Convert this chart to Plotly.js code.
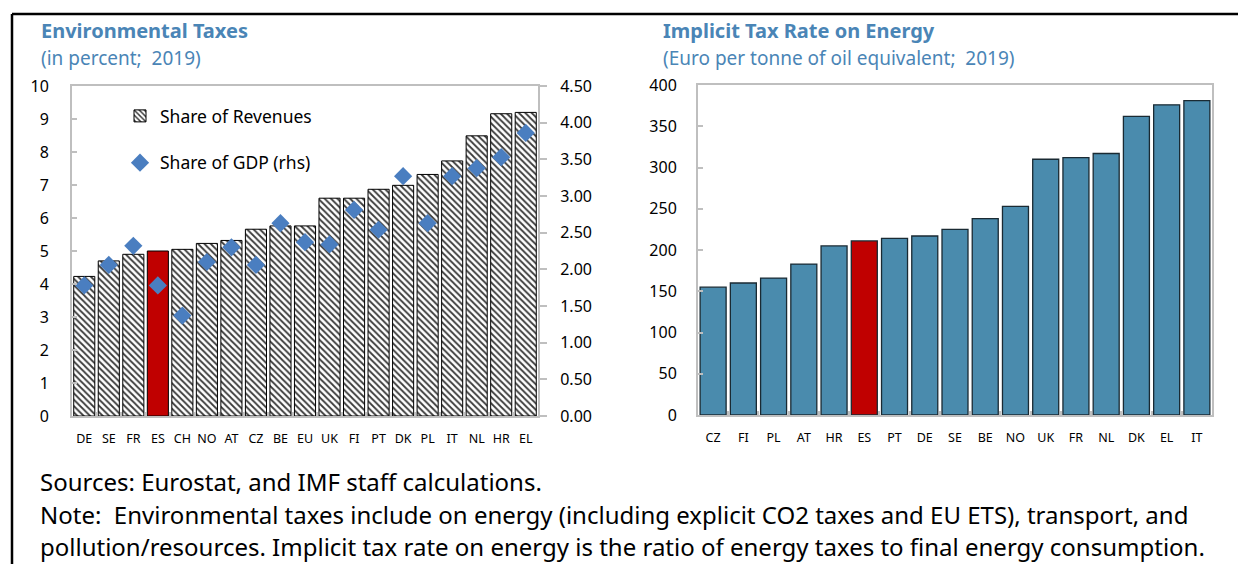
<!DOCTYPE html>
<html>
<head>
<meta charset="utf-8">
<script src="https://cdn.plot.ly/plotly-3.0.1.min.js"></script>
<style>html,body{margin:0;padding:0;background:#fff;}#chart{width:1238px;height:564px;}</style>
</head>
<body>
<div id="chart"></div>
<script>
// ---- Data ----
const envCountries = ["DE","SE","FR","ES","CH","NO","AT","CZ","BE","EU","UK","FI","PT","DK","PL","IT","NL","HR","EL"];
const shareRevenues = [4.23,4.70,4.90,5.00,5.05,5.23,5.32,5.66,5.76,5.76,6.60,6.60,6.87,6.99,7.32,7.73,8.49,9.16,9.20];
const shareGDP = [1.78,2.06,2.32,1.78,1.37,2.10,2.30,2.06,2.63,2.37,2.34,2.81,2.54,3.27,2.63,3.27,3.38,3.53,3.86];

const energyCountries = ["CZ","FI","PL","AT","HR","ES","PT","DE","SE","BE","NO","UK","FR","NL","DK","EL","IT"];
const energyTaxRate = [155,160,166,183,205,211,214,217,225,238,253,310,312,317,362,376,381];

const highlight = "ES";

// ---- Styling ----
const W = 1238, H = 564;
const px = x => x / W;
const py = y => 1 - y / H;
const FONT = "Noto Sans, DejaVu Sans, sans-serif";
const TITLE_COLOR = "#4A85B6";
const AXIS_COLOR = "#BFBFBF";
const RED = "#C00000";

const revOthers = envCountries.map((c, i) => c === highlight ? null : shareRevenues[i]);
const revHighlight = envCountries.map((c, i) => c === highlight ? shareRevenues[i] : null);
const energyColors = energyCountries.map(c => c === highlight ? RED : "#4A8BAD");

const traces = [
  {
    type: "bar", x: envCountries, y: revOthers, name: "Share of Revenues",
    xaxis: "x", yaxis: "y", legendgroup: "a",
    marker: {
      color: "#FFFFFF",
      line: {color: "#000", width: 1},
      pattern: {shape: "\\", fgcolor: "#3A3A3A", bgcolor: "#FFFFFF", size: 4.5, solidity: 0.4}
    }
  },
  {
    type: "bar", x: envCountries, y: revHighlight, name: "ES",
    xaxis: "x", yaxis: "y", showlegend: false,
    marker: {color: RED, line: {color: "#000", width: 1}}
  },
  {
    type: "scatter", mode: "markers", x: envCountries, y: shareGDP, name: "Share of GDP (rhs)",
    xaxis: "x", yaxis: "y2", legendgroup: "b",
    marker: {symbol: "diamond", size: 14, color: "#4A7EC0"}
  },
  {
    type: "bar", x: energyCountries, y: energyTaxRate, name: "Implicit tax rate",
    xaxis: "x2", yaxis: "y3", showlegend: false,
    marker: {color: energyColors, line: {color: "#1A2A33", width: 1.3}}
  }
];

const xBase = {
  type: "category", showline: true, linecolor: AXIS_COLOR, linewidth: 2, mirror: true,
  ticks: "inside", tickson: "boundaries", ticklen: 4, tickcolor: AXIS_COLOR, tickwidth: 2,
  tickfont: {family: FONT, size: 12.5, color: "#000"}, showgrid: false, zeroline: false,
  tickangle: 0, ticklabelstandoff: 10, fixedrange: true
};
const yBase = {
  showline: true, linecolor: AXIS_COLOR, linewidth: 2, showgrid: false, zeroline: false,
  ticklen: 5, tickcolor: AXIS_COLOR, tickwidth: 2,
  tickfont: {family: FONT, size: 16, color: "#000"}, fixedrange: true
};

const layout = {
  width: W, height: H,
  margin: {l: 0, r: 0, t: 0, b: 0},
  paper_bgcolor: "#fff", plot_bgcolor: "#fff",
  font: {family: FONT, color: "#000"},
  barmode: "overlay",
  bargap: 0.14,
  showlegend: true,
  legend: {
    x: px(120), y: py(98), xanchor: "left", yanchor: "top",
    bgcolor: "rgba(0,0,0,0)", borderwidth: 0,
    font: {family: FONT, size: 17.5, color: "#000"},
    traceorder: "grouped", tracegroupgap: 21, itemwidth: 30
  },
  xaxis: Object.assign({}, xBase, {domain: [px(72), px(538)], anchor: "y", range: [-0.5, envCountries.length - 0.5]}),
  yaxis: Object.assign({}, yBase, {domain: [py(416), py(86)], anchor: "x", range: [0, 10], dtick: 1,
    ticks: "inside", ticklabelstandoff: 18}),
  yaxis2: Object.assign({}, yBase, {overlaying: "y", side: "right", anchor: "x", range: [0, 4.5],
    dtick: 0.5, tickformat: ".2f", ticks: "outside", ticklen: 7, ticklabelstandoff: 10}),
  xaxis2: Object.assign({}, xBase, {domain: [px(698), px(1212)], anchor: "y3", range: [-0.5, energyCountries.length - 0.5]}),
  yaxis3: Object.assign({}, yBase, {domain: [py(415), py(85)], anchor: "x2", range: [0, 400],
    dtick: 50, ticks: "inside", mirror: true, ticklabelstandoff: 16}),
  shapes: [
    {type: "line", xref: "paper", yref: "paper", x0: px(12), x1: 1, y0: py(14), y1: py(14), line: {color: "#000", width: 2.5}},
    {type: "line", xref: "paper", yref: "paper", x0: px(12), x1: px(12), y0: py(14), y1: 0, line: {color: "#000", width: 2.5}}
  ],
  annotations: [
    {text: "<b>Environmental Taxes</b>", x: px(39), y: py(30), font: {size: 20, color: TITLE_COLOR}},
    {text: "(in percent;  2019)", x: px(39), y: py(58), font: {size: 19, color: TITLE_COLOR}},
    {text: "<b>Implicit Tax Rate on Energy</b>", x: px(661), y: py(30), font: {size: 20, color: TITLE_COLOR}},
    {text: "(Euro per tonne of oil equivalent;  2019)", x: px(661), y: py(58), font: {size: 19, color: TITLE_COLOR}},
    {text: "Sources: Eurostat, and IMF staff calculations.", x: px(38), y: py(481), font: {size: 24, color: "#000"}},
    {text: "Note:  Environmental taxes include on energy (including explicit CO2 taxes and EU ETS), transport, and", x: px(38), y: py(514), font: {size: 24, color: "#000"}},
    {text: "pollution/resources. Implicit tax rate on energy is the ratio of energy taxes to final energy consumption.", x: px(38), y: py(546), font: {size: 24, color: "#000"}}
  ].map(a => Object.assign({xref: "paper", yref: "paper", xanchor: "left", yanchor: "middle", showarrow: false}, a,
    {font: Object.assign({family: FONT}, a.font)}))
};

Plotly.newPlot("chart", traces, layout, {staticPlot: true, displayModeBar: false});
</script>
</body>
</html>
